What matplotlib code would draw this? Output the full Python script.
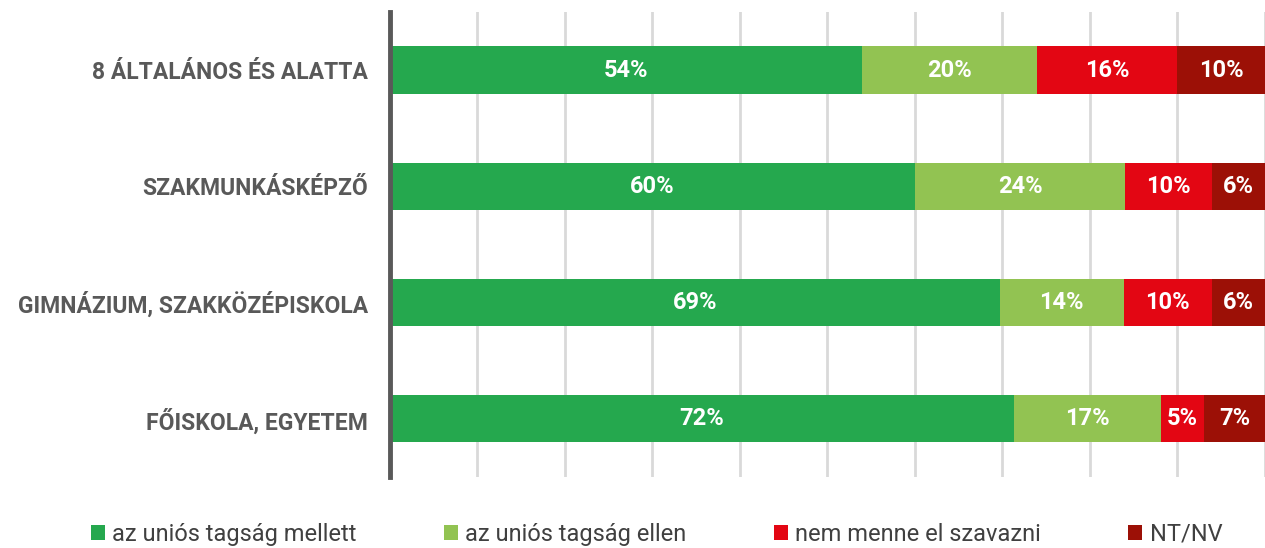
import numpy as np
import matplotlib.pyplot as plt

plt.rcParams['font.family'] = ['Roboto', 'DejaVu Sans']

# Data
categories = ['8 ÁLTALÁNOS ÉS ALATTA', 'SZAKMUNKÁSKÉPZŐ',
              'GIMNÁZIUM, SZAKKÖZÉPISKOLA', 'FŐISKOLA, EGYETEM']
series = ['az uniós tagság mellett', 'az uniós tagság ellen',
          'nem menne el szavazni', 'NT/NV']
mellett = [54, 60, 69, 72]
ellen = [20, 24, 14, 17]
nem_menne = [16, 10, 10, 5]
ntnv = [10, 6, 6, 7]
colors = ['#25a84e', '#92c352', '#e30613', '#9c1006']

values = np.array([mellett, ellen, nem_menne, ntnv], dtype=float)
# rows are drawn as 100% bars
shares = values / values.sum(axis=0) * 100

fig = plt.figure(figsize=(12.65, 5.48), dpi=100)
ax = fig.add_axes([0.3083, 0.130, 0.6917, 0.848])

y = np.arange(len(categories))
left = np.zeros(len(categories))
for i in range(len(series)):
    ax.barh(y, shares[i], left=left, height=0.41, color=colors[i],
            label=series[i], zorder=3)
    for j in range(len(categories)):
        ax.text(left[j] + shares[i][j] / 2, y[j], f'{int(values[i][j])}%',
                ha='center', va='center', color='white', fontsize=17,
                fontweight='bold', zorder=4)
    left += shares[i]

ax.set_xlim(0, 100)
ax.set_ylim(3.5, -0.5)
ax.set_xticks(np.arange(0, 101, 10))
ax.xaxis.grid(True, color='#d9d9d9', linewidth=2, zorder=0)
ax.tick_params(axis='x', length=0, labelbottom=False)
ax.tick_params(axis='y', length=0, pad=16)
ax.set_yticks(y)
ax.set_yticklabels(categories, fontsize=16.5, fontweight='bold', color='#595959')
for s in ['top', 'right', 'bottom']:
    ax.spines[s].set_visible(False)
ax.spines['left'].set_color('#595959')
ax.spines['left'].set_linewidth(3.5)
ax.spines['left'].set_zorder(5)

fig.legend(loc='lower center', bbox_to_anchor=(0.519, -0.035), ncol=4,
           frameon=False, fontsize=17, handlelength=0.6, handleheight=0.6,
           handletextpad=0.3, columnspacing=3.7, labelcolor='#404040')

fig.savefig('out.png', dpi=100)
